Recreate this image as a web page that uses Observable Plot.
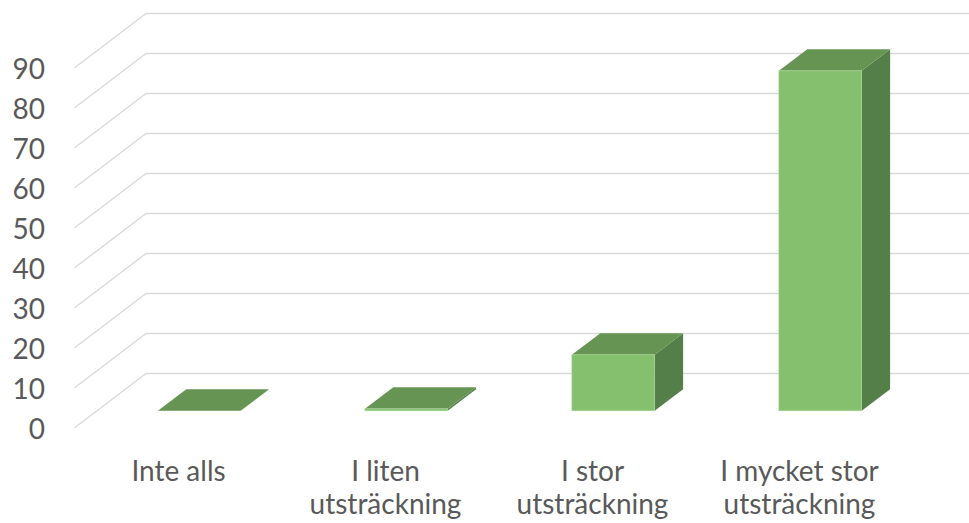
<!DOCTYPE html>
<html>
<head>
<meta charset="utf-8">
<script src="https://cdn.jsdelivr.net/npm/d3@7"></script>
<script src="https://cdn.jsdelivr.net/npm/@observablehq/plot@0.6"></script>
<style>
  html, body { margin: 0; padding: 0; background: #fff; }
  #chart svg { display: block; font-family: Lato, "Open Sans", sans-serif; font-weight: 400; }
</style>
</head>
<body>
<div id="chart"></div>
<script>
// ---- data ----
const categories = ["Inte alls", "I liten\nutsträckning", "I stor\nutsträckning", "I mycket stor\nutsträckning"];
const values = [0, 0.5, 14, 85];
const yTicks = [0, 10, 20, 30, 40, 50, 60, 70, 80, 90];

// ---- 3D geometry (in data units) ----
const DX = 0.343;   // depth shift along x (category units) for full depth
const DY = 13.5;    // depth shift along y (value units) for full depth
const HW = 0.2;     // half bar width (category units)
const D0 = 0.3, D1 = 0.7; // bar front/back depth fraction
const xMin = -0.5, xMax = categories.length - 0.5;

const idx = categories.map((_, i) => i);

// gridlines: front-left diagonal, then back wall horizontal
const grid = yTicks.flatMap(v => [
  {v, x: xMin, y: v},
  {v, x: xMin + DX, y: v + DY},
  {v, x: xMax + DX, y: v + DY}
]);

const tops = idx.flatMap(i => [D0, D1].map(d => ({
  i, y: values[i] + d * DY, x1: i - HW + d * DX, x2: i + HW + d * DX
})));
const sides = idx.flatMap(i => [D0, D1].map(d => ({
  i, x: i + HW + d * DX, y1: d * DY, y2: values[i] + d * DY
})));
const fronts = idx.map(i => ({
  i, x1: i - HW + D0 * DX, x2: i + HW + D0 * DX, y1: D0 * DY, y2: values[i] + D0 * DY
}));

const chart = Plot.plot({
  width: 969,
  height: 523,
  marginLeft: 74.5,
  marginRight: 66.5,
  marginTop: 67,
  marginBottom: 96,
  x: {type: "linear", domain: [xMin, xMax]},
  y: {domain: [0, 90]},
  marks: [
    Plot.line(grid, {x: "x", y: "y", z: "v", stroke: "#d9d9d9", strokeWidth: 1.4}),
    Plot.areaY(sides, {x: "x", y1: "y1", y2: "y2", z: "i", fill: "#557f48"}),
    Plot.areaX(tops, {y: "y", x1: "x1", x2: "x2", z: "i", fill: "#669553"}),
    Plot.rect(fronts, {x1: "x1", x2: "x2", y1: "y1", y2: "y2", fill: "#84c06e", stroke: "#a9d69a", strokeWidth: 0.6}),
    Plot.axisY(yTicks, {
      tickSize: 0, tickPadding: 30, fontSize: 28, fill: "#595959", dy: 3, label: null
    }),
    Plot.axisX(idx, {
      tickSize: 0, tickPadding: 29, fontSize: 28, fill: "#595959",
      tickFormat: i => categories[i], lineHeight: 1.21, label: null
    })
  ]
});
document.getElementById("chart").appendChild(chart);
</script>
</body>
</html>
